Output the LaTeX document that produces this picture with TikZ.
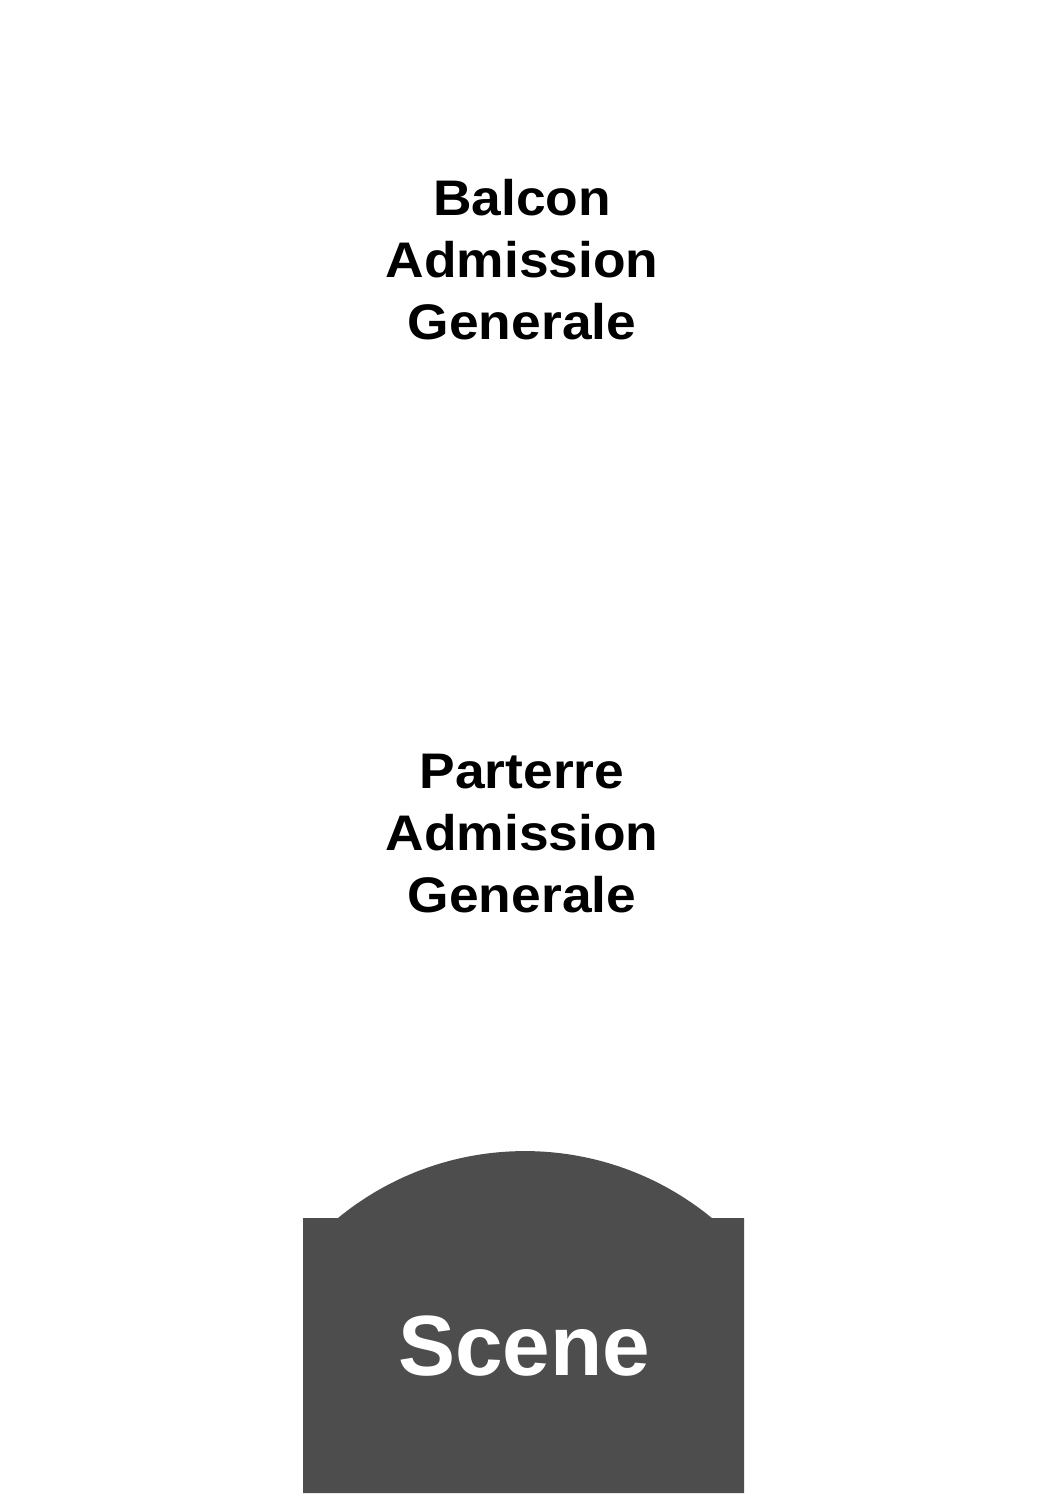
\documentclass[tikz,border=0pt]{standalone}
\usepackage{fontspec}
\setmainfont{Liberation Sans}
\newfontfamily\widesans[FakeStretch=1.067]{Liberation Sans}
\begin{document}
\begin{tikzpicture}[x=1pt,y=-1pt,
  zonelabel/.style={align=center,font=\widesans\fontsize{50}{62}\selectfont\bfseries,text=black,inner sep=0pt},
  stagelabel/.style={font=\fontsize{85.5}{95}\selectfont\bfseries,text=white,inner sep=0pt}]
\useasboundingbox[fill=white] (0,0) rectangle (1050,1500);
\fill[fill={rgb,255:red,77;green,77;blue,77}] (303,1493) -- (303,1218) -- (338,1218)
  arc[start angle=-129.4,end angle=-50.6,radius=294.5] -- (744,1218) -- (744,1493) -- cycle;
\node[zonelabel] (balcon) at (522,260) {Balcon\\Admission\\Generale};
\node[zonelabel] (parterre) at (522,834) {Parterre\\Admission\\Generale};
\node[stagelabel,anchor=base] (scene) at (524,1375) {Scene};
\end{tikzpicture}
\end{document}
